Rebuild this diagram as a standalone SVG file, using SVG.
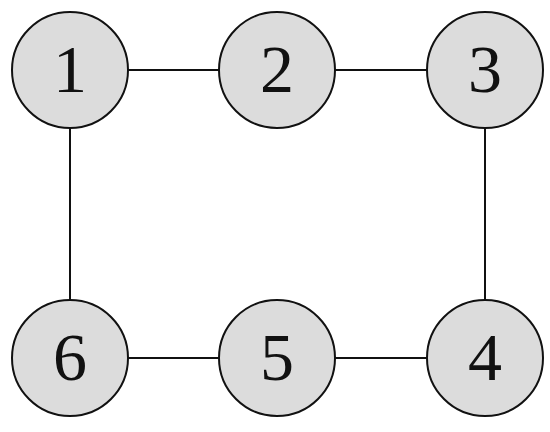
<svg xmlns="http://www.w3.org/2000/svg" width="550" height="432" viewBox="0 0 550 432">
<style>
.n circle{fill:#dcdcdc;stroke:#111;stroke-width:2}
.n text{font-family:"Liberation Serif","DejaVu Serif",serif;font-size:68px;fill:#111;text-anchor:middle}
#edges line{stroke:#111;stroke-width:2}
</style>
<rect width="550" height="432" fill="#fff"/>
<g id="edges">
<line x1="128" y1="70" x2="219" y2="70"/>
<line x1="335" y1="70" x2="427" y2="70"/>
<line x1="485" y1="128" x2="485" y2="300"/>
<line x1="427" y1="358" x2="335" y2="358"/>
<line x1="219" y1="358" x2="128" y2="358"/>
<line x1="70" y1="300" x2="70" y2="128"/>
</g>
<g id="node1" class="n"><circle cx="70" cy="70" r="58"/><text x="70" y="92">1</text></g>
<g id="node2" class="n"><circle cx="277" cy="70" r="58"/><text x="277" y="92">2</text></g>
<g id="node3" class="n"><circle cx="485" cy="70" r="58"/><text x="485" y="92">3</text></g>
<g id="node4" class="n"><circle cx="485" cy="358" r="58"/><text x="485" y="380">4</text></g>
<g id="node5" class="n"><circle cx="277" cy="358" r="58"/><text x="277" y="380">5</text></g>
<g id="node6" class="n"><circle cx="70" cy="358" r="58"/><text x="70" y="380">6</text></g>
</svg>
